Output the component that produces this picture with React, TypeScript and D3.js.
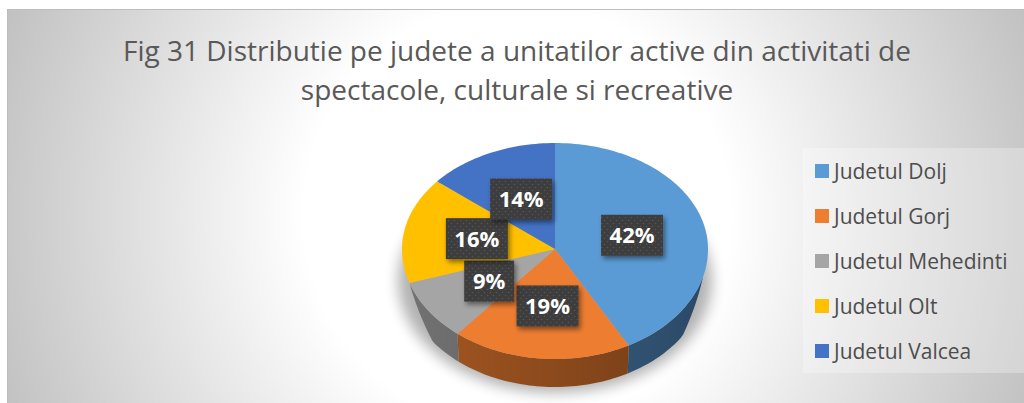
import React from "react";
import * as d3 from "d3";

const categories = ["Judetul Dolj", "Judetul Gorj", "Judetul Mehedinti", "Judetul Olt", "Judetul Valcea"];
const values = [42, 19, 9, 16, 14];
const colors = ["#5b9bd5", "#ed7d31", "#a5a5a5", "#ffc000", "#4472c4"];
const titleLines = [
  "Fig 31 Distributie pe judete a unitatilor active din activitati de",
  "spectacole, culturale si recreative",
];

const W = 1024;
const H = 403;
const cx = 555;
const cy = 249;
const rx = 153;
const ryBack = 106;
const ryFront = 110;
const depth = 28;
const wallA = 0.58 * Math.PI;
const wallB = 1.4 * Math.PI;
const taper = 0.1 * Math.PI;

function pt(a: number, f = 1): [number, number] {
  const c = Math.cos(a);
  const ry = c >= 0 ? ryBack : ryFront;
  return [cx + rx * f * Math.sin(a), cy - ry * f * c];
}

function wallPt(a: number): [number, number] {
  const k = Math.max(0, Math.min(1, Math.min(a - wallA, wallB - a) / taper));
  const [x, y] = pt(a);
  return [x - 2 * k * Math.sin(a), y + depth * k];
}

function sample(a0: number, a1: number): number[] {
  const n = Math.max(2, Math.ceil(((a1 - a0) / Math.PI) * 120));
  return d3.range(n + 1).map((i) => a0 + ((a1 - a0) * i) / n);
}

export default function App() {
  const pie = d3.pie<number>().sort(null).value((d) => d)(values);
  const line = d3.line();
  const total = d3.sum(values);

  const tops = pie.map((p, i) => {
    const pts: [number, number][] = [[cx, cy], ...sample(p.startAngle, p.endAngle).map((a) => pt(a))];
    return { d: line(pts) + "Z", color: colors[i] };
  });

  const sides = pie
    .map((p, i) => {
      const a0 = Math.max(p.startAngle, wallA);
      const a1 = Math.min(p.endAngle, wallB);
      if (a1 <= a0) return null;
      const angles = sample(a0, a1);
      const topPts = angles.map((a) => pt(a));
      const botPts = angles.map((a) => wallPt(a)).reverse();
      return { d: line([...topPts, ...botPts]) + "Z", i };
    })
    .filter(Boolean) as { d: string; i: number }[];

  const labels = pie.map((p, i) => {
    const mid = (p.startAngle + p.endAngle) / 2;
    const [x, y] = pt(mid, 0.52);
    const txt = Math.round((values[i] / total) * 100) + "%";
    return { x, y, txt, w: 26 + 12 * txt.length };
  });

  const legendY = d3.scalePoint<string>().domain(categories).range([171, 351]);

  return (
    <svg width={W} height={H} style={{ position: "absolute", left: 0, top: 0 }}>
      <defs>
        <radialGradient id="bg" gradientUnits="userSpaceOnUse" cx={517} cy={215} r={560}>
          <stop offset="0" stopColor="#ffffff" />
          <stop offset="0.38" stopColor="#ffffff" />
          <stop offset="1" stopColor="#bfbfbf" />
        </radialGradient>
        {colors.map((c, i) => {
          const col = d3.color(c)!;
          return (
            <linearGradient key={i} id={"side" + i} gradientUnits="userSpaceOnUse" x1={cx - rx} x2={cx + rx} y1={0} y2={0}>
              <stop offset="0" stopColor={col.darker(1.0).formatHex()} />
              <stop offset="1" stopColor={col.darker(2.1).formatHex()} />
            </linearGradient>
          );
        })}
        <pattern id="dots" width="6" height="6" patternUnits="userSpaceOnUse">
          <rect width="6" height="6" fill="#3d3d3d" />
          <circle cx="1.5" cy="1.5" r="0.8" fill="#575757" />
          <circle cx="4.5" cy="4.5" r="0.8" fill="#575757" />
        </pattern>
        <filter id="shadow" x="-30%" y="-30%" width="160%" height="160%">
          <feDropShadow dx="2" dy="3" stdDeviation="2.5" floodColor="#000" floodOpacity="0.45" />
        </filter>
        <filter id="pieShadow" x="-30%" y="-30%" width="160%" height="160%">
          <feGaussianBlur stdDeviation="7" />
        </filter>
      </defs>

      <rect x={7.5} y={9.5} width={1030} height={430} fill="url(#bg)" stroke="#bdbdbd" strokeWidth={1} />
      <rect x={803} y={148} width={230} height={225} fill="#ffffff" opacity={0.28} />

      {titleLines.map((t, i) => (
        <text
          key={i}
          x={517}
          y={61 + i * 39}
          textAnchor="middle"
          fontFamily="'Open Sans', sans-serif"
          fontSize={28}
          fill="#595959"
        >
          {t}
        </text>
      ))}

      <ellipse cx={cx} cy={cy + depth + 4} rx={rx + 4} ry={ryFront + 2} fill="#000" opacity={0.3} filter="url(#pieShadow)" />

      {sides.map((s) => (
        <path key={"s" + s.i} d={s.d} fill={`url(#side${s.i})`} />
      ))}
      {tops.map((t, i) => (
        <path key={"t" + i} d={t.d} fill={t.color} />
      ))}

      {labels.map((l, i) => (
        <g key={"l" + i}>
          <rect
            x={l.x - l.w / 2}
            y={l.y - 20.5}
            width={l.w}
            height={41}
            fill="url(#dots)"
            filter="url(#shadow)"
          />
          <text
            x={l.x}
            y={l.y + 8}
            textAnchor="middle"
            fontFamily="'Open Sans', sans-serif"
            fontWeight="bold"
            fontSize={22}
            fill="#ffffff"
          >
            {l.txt}
          </text>
        </g>
      ))}

      {categories.map((c, i) => (
        <g key={"lg" + i}>
          <rect x={815} y={legendY(c)! - 7} width={14} height={14} fill={colors[i]} />
          <text
            x={834}
            y={legendY(c)! + 7.5}
            fontFamily="'Open Sans', sans-serif"
            fontSize={21}
            fill="#4d4d4d"
          >
            {c}
          </text>
        </g>
      ))}
    </svg>
  );
}
